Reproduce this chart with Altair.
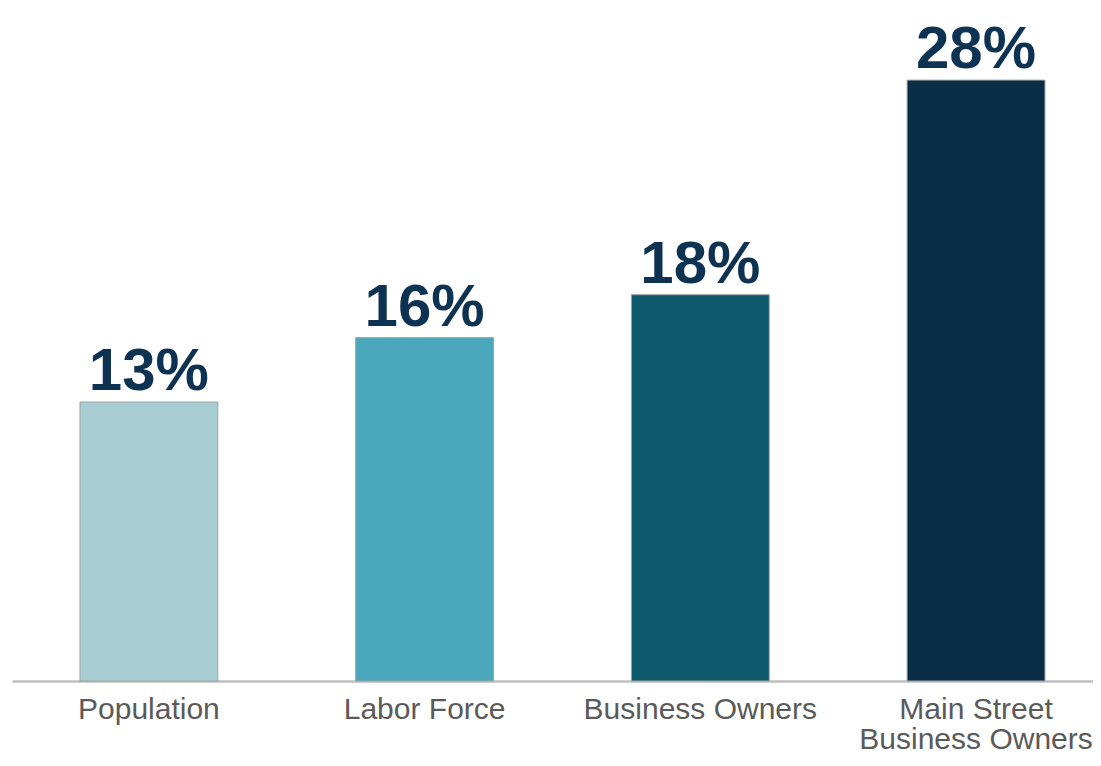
import altair as alt
import pandas as pd

categories = ["Population", "Labor Force", "Business Owners", "Main Street|Business Owners"]
values = [13, 16, 18, 28]
labels = ["13%", "16%", "18%", "28%"]
colors = ["#a7cdd3", "#4ba7bb", "#0d5a6c", "#0a2d48"]

df = pd.DataFrame({"category": categories, "value": values, "label": labels})

FONT = "Liberation Sans, Arial, sans-serif"

x = alt.X(
    "category:N",
    sort=categories,
    title=None,
    scale=alt.Scale(paddingInner=0.5, paddingOuter=0.2104, align=0.586),
    axis=alt.Axis(
        labelAngle=0,
        ticks=False,
        domainColor="#bfbfbf",
        domainWidth=2.5,
        labelFont=FONT,
        labelFontSize=30,
        labelColor="#5a5a5a",
        labelPadding=13,
        labelLimit=400,
        labelOverlap=False,
        labelExpr="split(datum.label, '|')",
        labelLineHeight=30,
    ),
)
y = alt.Y("value:Q", scale=alt.Scale(domain=[0, 31.36], nice=False), axis=None)

bars = alt.Chart(df).mark_bar(stroke="#a0a0a0", strokeWidth=1).encode(
    x=x,
    y=y,
    color=alt.Color("category:N", scale=alt.Scale(domain=categories, range=colors), legend=None),
)

text = alt.Chart(df).mark_text(
    baseline="alphabetic", dy=-12, font=FONT, fontSize=60, fontWeight="bold", color="#0e3352"
).encode(x=x, y=y, text="label:N")

chart = (
    alt.layer(bars, text)
    .properties(
        width=1081,
        height=673,
        autosize=alt.AutoSizeParams(type="none"),
        padding={"left": 4, "top": 0, "right": 0, "bottom": 72},
    )
    .configure_view(stroke=None)
)

chart.save("out.html", embed_options={"renderer": "svg", "actions": False})
